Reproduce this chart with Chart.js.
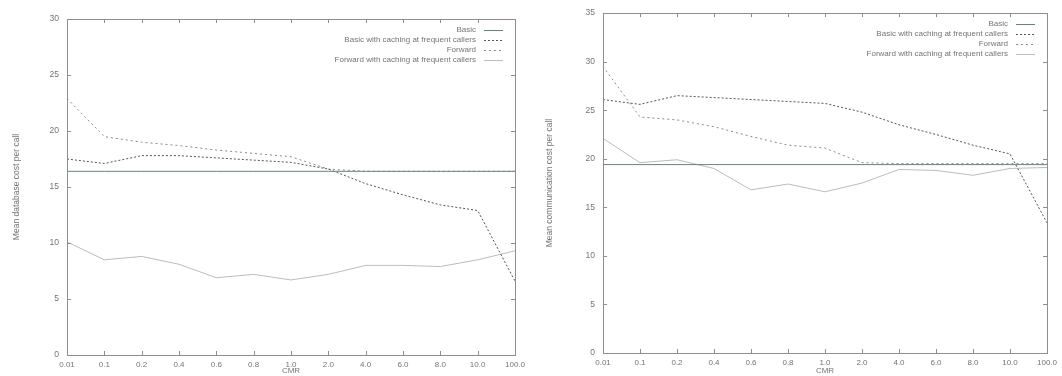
<!DOCTYPE html>
<html>
<head>
<meta charset="utf-8">
<script src="https://cdn.jsdelivr.net/npm/chart.js@4.4.1/dist/chart.umd.min.js"></script>
<style>
  html, body { margin: 0; padding: 0; background: #fff; }
  body { width: 1062px; height: 376px; position: relative; overflow: hidden; }
  .panel { position: absolute; top: 0; height: 376px; }
  #dbPanel { left: 0; width: 530px; }
  #commPanel { left: 530px; width: 532px; }
  canvas { filter: blur(0.35px); }
</style>
</head>
<body>
<div class="panel" id="dbPanel"><canvas id="dbChart" width="530" height="376"></canvas></div>
<div class="panel" id="commPanel"><canvas id="commChart" width="532" height="376"></canvas></div>
<script>
// CMR categories (x axis is evenly spaced, not numeric)
const cmrLabels = ["0.01", "0.1", "0.2", "0.4", "0.6", "0.8", "1.0", "2.0", "4.0", "6.0", "8.0", "10.0", "100.0"];

const seriesNames = [
  "Basic",
  "Basic with caching at frequent callers",
  "Forward",
  "Forward with caching at frequent callers"
];

// left: mean database cost per call
const dbBasic = [16.4, 16.4, 16.4, 16.4, 16.4, 16.4, 16.4, 16.4, 16.4, 16.4, 16.4, 16.4, 16.4];
const dbBasicCaching = [17.5, 17.1, 17.8, 17.8, 17.6, 17.4, 17.2, 16.6, 15.3, 14.3, 13.4, 12.9, 6.6];
const dbForward = [22.9, 19.5, 19.0, 18.7, 18.3, 18.0, 17.7, 16.6, 16.4, 16.4, 16.4, 16.4, 16.4];
const dbForwardCaching = [10.1, 8.5, 8.8, 8.1, 6.9, 7.2, 6.7, 7.2, 8.0, 8.0, 7.9, 8.5, 9.3];

// right: mean communication cost per call
const commBasic = [19.4, 19.4, 19.4, 19.4, 19.4, 19.4, 19.4, 19.4, 19.4, 19.4, 19.4, 19.4, 19.4];
const commBasicCaching = [26.1, 25.6, 26.5, 26.3, 26.1, 25.9, 25.7, 24.8, 23.5, 22.5, 21.4, 20.5, 13.4];
const commForward = [29.5, 24.3, 24.0, 23.3, 22.3, 21.4, 21.1, 19.6, 19.5, 19.5, 19.5, 19.5, 19.5];
const commForwardCaching = [22.1, 19.6, 19.9, 19.0, 16.8, 17.4, 16.6, 17.5, 18.9, 18.8, 18.3, 19.0, 19.1];

const dbTicks = { min: 0, max: 30, step: 5 };
const commTicks = { min: 0, max: 35, step: 5 };

const FONT = "'Liberation Sans', Arial, sans-serif";
const TEXT = "#747474";
const FRAME = "#8e8e8e";

const lineStyles = [
  { color: "#5f887c", dash: [] },
  { color: "#555555", dash: [2, 2] },
  { color: "#8a8a8a", dash: [2, 3] },
  { color: "#bcbcbc", dash: [] }
];

function makeDatasets(values) {
  return values.map((data, i) => ({
    label: seriesNames[i],
    data,
    borderColor: lineStyles[i].color,
    borderDash: lineStyles[i].dash,
    borderWidth: 1,
    pointRadius: 0,
    tension: 0,
    fill: false
  }));
}

// gnuplot-like frame, inward ticks on all four sides, legend top right
const gnuFrame = {
  id: "gnuFrame",
  afterDatasetsDraw(chart) {
    const { ctx, chartArea: a } = chart;
    const x = chart.scales.x;
    const y = chart.scales.y;
    ctx.save();
    ctx.strokeStyle = FRAME;
    ctx.lineWidth = 1;
    ctx.setLineDash([]);
    ctx.strokeRect(Math.round(a.left) + 0.5, Math.round(a.top) + 0.5,
      Math.round(a.right - a.left), Math.round(a.bottom - a.top));
    ctx.beginPath();
    x.ticks.forEach((t, i) => {
      const px = Math.round(x.getPixelForTick(i)) + 0.5;
      ctx.moveTo(px, a.bottom); ctx.lineTo(px, a.bottom - 4);
      ctx.moveTo(px, a.top); ctx.lineTo(px, a.top + 4);
    });
    y.ticks.forEach((t, i) => {
      const py = Math.round(y.getPixelForTick(i)) + 0.5;
      ctx.moveTo(a.left, py); ctx.lineTo(a.left + 4, py);
      ctx.moveTo(a.right, py); ctx.lineTo(a.right - 4, py);
    });
    ctx.stroke();

    ctx.font = `8px ${FONT}`;
    ctx.textAlign = "right";
    ctx.textBaseline = "middle";
    chart.data.datasets.forEach((ds, i) => {
      const ly = a.top + 11 + i * 10;
      ctx.fillStyle = TEXT;
      ctx.fillText(ds.label, a.right - 39, ly);
      ctx.strokeStyle = ds.borderColor;
      ctx.setLineDash(ds.borderDash);
      ctx.beginPath();
      ctx.moveTo(a.right - 31, Math.round(ly) + 0.5);
      ctx.lineTo(a.right - 12, Math.round(ly) + 0.5);
      ctx.stroke();
    });
    ctx.restore();
  }
};

function buildChart(canvasId, datasets, ticks, yTitle, geom) {
  const ctx = document.getElementById(canvasId).getContext("2d");
  return new Chart(ctx, {
    type: "line",
    data: { labels: cmrLabels, datasets },
    plugins: [gnuFrame],
    options: {
      responsive: false,
      animation: false,
      layout: { padding: { top: geom.top, right: geom.right, left: 0, bottom: 0 } },
      plugins: { legend: { display: false }, tooltip: { enabled: false } },
      scales: {
        x: {
          offset: false,
          grid: { display: false, drawTicks: false },
          border: { display: false },
          ticks: {
            color: TEXT, font: { family: FONT, size: 8 },
            autoSkip: false, maxRotation: 0, padding: 5
          },
          title: {
            display: true, text: "CMR", color: TEXT,
            font: { family: FONT, size: 8 }, padding: { top: 0, bottom: 0 }
          },
          afterFit(scale) { scale.height = geom.xHeight; }
        },
        y: {
          min: ticks.min,
          max: ticks.max,
          grid: { display: false, drawTicks: false },
          border: { display: false },
          ticks: {
            stepSize: ticks.step, color: TEXT,
            font: { family: FONT, size: 8.5 }, padding: 8
          },
          title: {
            display: true, text: yTitle, color: TEXT,
            font: { family: FONT, size: 8.5 }, padding: { top: geom.titleLeft, bottom: 0 }
          },
          afterFit(scale) { scale.width = geom.yWidth; }
        }
      }
    }
  });
}

buildChart("dbChart",
  makeDatasets([dbBasic, dbBasicCaching, dbForward, dbForwardCaching]),
  dbTicks, "Mean database cost per call",
  { top: 19, right: 15, xHeight: 21, yWidth: 67, titleLeft: 12 });

buildChart("commChart",
  makeDatasets([commBasic, commBasicCaching, commForward, commForwardCaching]),
  commTicks, "Mean communication cost per call",
  { top: 13, right: 14, xHeight: 23, yWidth: 73, titleLeft: 15 });
</script>
</body>
</html>
